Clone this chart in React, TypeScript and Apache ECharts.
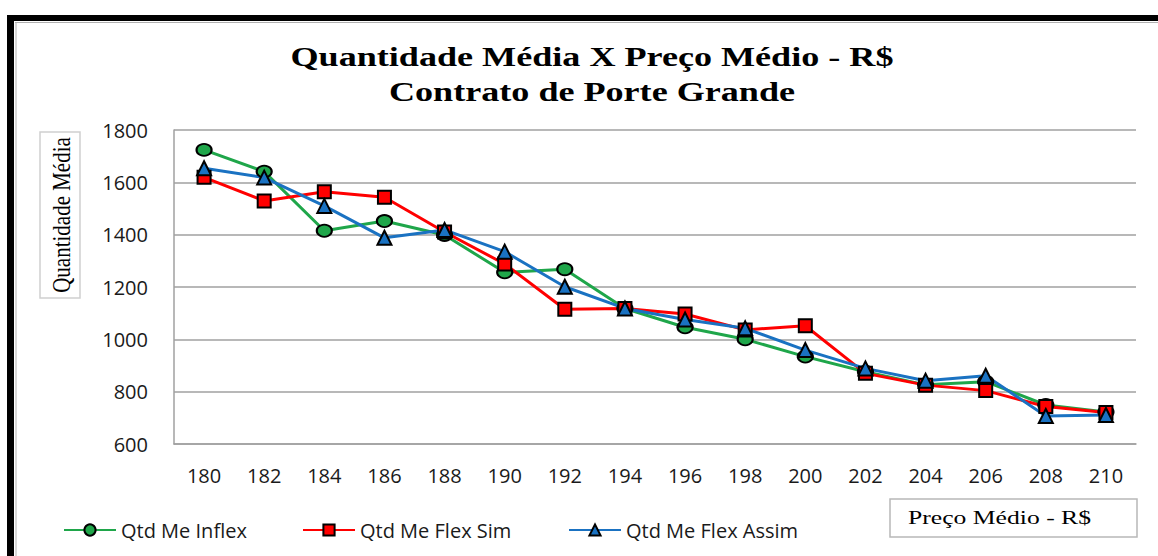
import React, { useEffect, useRef } from "react";
import * as echarts from "echarts";

const categories = ["180", "182", "184", "186", "188", "190", "192", "194", "196", "198", "200", "202", "204", "206", "208", "210"];
const inflex = [1724, 1641, 1415, 1452, 1399, 1256, 1268, 1118, 1046, 1000, 934, 876, 826, 838, 749, 722];
const flexSim = [1619, 1529, 1564, 1543, 1410, 1288, 1115, 1118, 1097, 1036, 1052, 870, 825, 804, 743, 720];
const flexAssim = [1654, 1618, 1510, 1388, 1418, 1335, 1201, 1118, 1076, 1042, 959, 889, 842, 861, 707, 711];
const seriesNames = ["Qtd Me Inflex", "Qtd Me Flex Sim", "Qtd Me Flex Assim"];
const titleLines = ["Quantidade Média X Preço Médio - R$", "Contrato de Porte Grande"];
const yName = "Quantidade Média";
const xName = "Preço Médio - R$";

const SANS = "'Open Sans', sans-serif";
const SERIF = "'Liberation Serif', 'Times New Roman', serif";

export default function App() {
  const ref = useRef<HTMLDivElement>(null);
  useEffect(() => {
    if (!ref.current) return;
    const chart = echarts.init(ref.current, null, { renderer: "svg" });
    const mk = (name: string, data: number[], color: string, symbol: string, size: any) => ({
      name,
      type: "line",
      data,
      symbol,
      symbolSize: size,
      showAllSymbol: true,
      lineStyle: { color, width: 3 },
      itemStyle: { color, borderColor: "#000", borderWidth: 2 },
    });
    const legendCommon = {
      itemWidth: 52,
      itemHeight: 14,
      itemGap: 5,
      textStyle: { fontFamily: SANS, fontSize: 20, color: "#1a1a1a" },
      top: 515,
    };
    chart.setOption({
      animation: false,
      backgroundColor: "#fff",
      grid: { left: 174, top: 130, right: 22, bottom: 112, containLabel: false },
      xAxis: {
        type: "category",
        data: categories,
        boundaryGap: true,
        axisTick: { show: false },
        axisLine: { lineStyle: { color: "#a0a0a0", width: 1.5 } },
        axisLabel: { fontFamily: SANS, fontSize: 20, color: "#1a1a1a", margin: 21 },
      },
      yAxis: {
        type: "value",
        min: 600,
        max: 1800,
        interval: 200,
        axisLine: { show: true, lineStyle: { color: "#a0a0a0", width: 1.5 } },
        axisTick: { show: false },
        splitLine: { lineStyle: { color: "#a0a0a0", width: 1.5 } },
        axisLabel: { fontFamily: SANS, fontSize: 20, color: "#1a1a1a", margin: 26, formatter: (v: number) => String(v) },
      },
      legend: [
        { ...legendCommon, left: 58, data: [seriesNames[0]] },
        { ...legendCommon, left: 297, data: [seriesNames[1]] },
        { ...legendCommon, left: 563, data: [seriesNames[2]] },
      ],
      series: [
        mk(seriesNames[0], inflex, "#1fa64a", "circle", [15, 12]),
        mk(seriesNames[1], flexSim, "#ff0000", "rect", 13),
        mk(seriesNames[2], flexAssim, "#1a72c2", "triangle", 14),
      ],
      graphic: [
        { type: "rect", shape: { x: 7, y: 15, width: 1151, height: 6 }, style: { fill: "#000" } },
        { type: "rect", shape: { x: 7, y: 15, width: 7, height: 541 }, style: { fill: "#000" } },
        { type: "line", shape: { x1: 15, y1: 22.5, x2: 1158, y2: 22.5 }, style: { stroke: "#b0b0b0", lineWidth: 1 } },
        { type: "line", shape: { x1: 16, y1: 22, x2: 16, y2: 556 }, style: { stroke: "#b0b0b0", lineWidth: 1 } },
        {
          type: "text", x: 592, y: 56, scaleX: 1.29,
          style: { text: titleLines[0], font: `bold 28px ${SERIF}`, fill: "#000", align: "center", verticalAlign: "middle" },
        },
        {
          type: "text", x: 592, y: 91, scaleX: 1.29,
          style: { text: titleLines[1], font: `bold 28px ${SERIF}`, fill: "#000", align: "center", verticalAlign: "middle" },
        },
        { type: "rect", shape: { x: 40, y: 132, width: 40, height: 166 }, style: { fill: "#fff", stroke: "#d0d0d0", lineWidth: 1.5 } },
        {
          type: "text", x: 61, y: 215, rotation: Math.PI / 2, scaleY: 1.2,
          style: { text: yName, font: `21px ${SERIF}`, fill: "#000", align: "center", verticalAlign: "middle" },
        },
        { type: "rect", shape: { x: 890, y: 499, width: 247, height: 38 }, style: { fill: "#fff", stroke: "#b8b8b8", lineWidth: 1.5 } },
        {
          type: "text", x: 908, y: 518, scaleX: 1.35,
          style: { text: xName, font: `19px ${SERIF}`, fill: "#000", align: "left", verticalAlign: "middle" },
        },
      ],
    });
    return () => chart.dispose();
  }, []);
  return <div ref={ref} style={{ position: "absolute", left: 0, top: 0, width: 1158, height: 556 }} />;
}
